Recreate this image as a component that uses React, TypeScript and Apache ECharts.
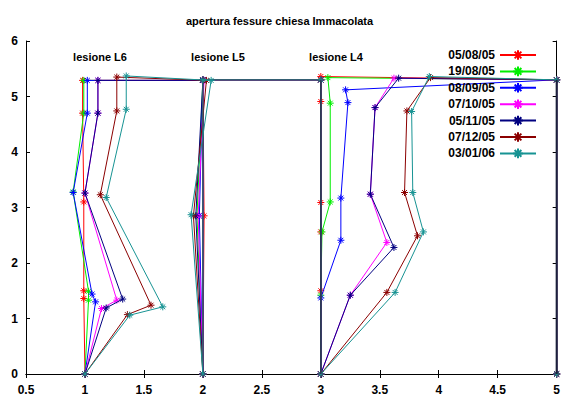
import React, { useEffect, useRef } from "react";
import * as echarts from "echarts";

const dates = ["05/08/05", "19/08/05", "08/09/05", "07/10/05", "05/11/05", "07/12/05", "03/01/06"];
const colors = ["#ff0000", "#00ee00", "#0000ff", "#ff00ff", "#000080", "#8b0000", "#179393"];

// lesione L6: points per date, bottom -> top
const l6Points = [
  [[1, 0], [0.99, 1.36], [0.99, 1.5], [0.99, 3.1], [0.98, 4.7], [0.98, 5.29]],
  [[1, 0], [1.03, 1.33], [1.03, 1.49], [0.9, 3.28], [0.99, 4.7], [0.99, 5.29]],
  [[1, 0], [1.09, 1.3], [1.06, 1.44], [0.9, 3.27], [1.02, 4.7], [1.02, 5.29]],
  [[1, 0], [1.14, 1.18], [1.27, 1.33], [1.0, 3.26], [1.11, 4.7], [1.11, 5.29]],
  [[1, 0], [1.18, 1.19], [1.32, 1.35], [1.0, 3.26], [1.11, 4.7], [1.11, 5.29]],
  [[1, 0], [1.36, 1.07], [1.56, 1.24], [1.13, 3.23], [1.27, 4.74], [1.27, 5.35]],
  [[1, 0], [1.38, 1.06], [1.66, 1.21], [1.18, 3.18], [1.35, 4.77], [1.35, 5.37]],
];

// lesione L5: points per date, top -> bottom
const l5Points = [
  [[2.0, 5.29], [2.01, 2.85], [2, 0]],
  [[2.0, 5.29], [1.95, 2.85], [2, 0]],
  [[2.0, 5.29], [1.97, 2.85], [2, 0]],
  [[2.01, 5.29], [1.96, 2.85], [2, 0]],
  [[2.0, 5.29], [1.94, 2.85], [2, 0]],
  [[2.03, 5.29], [1.92, 2.85], [2, 0]],
  [[2.07, 5.29], [1.9, 2.87], [2, 0]],
];

// connection between L5 and L4 (top of the wall)
const l5ToL4 = [[2, 5.3], [3, 5.3]];

// lesione L4: points per date, bottom -> top
const l4Points = [
  [[3, 0], [3.0, 1.5], [3.0, 2.56], [3.0, 3.09], [3.0, 4.91], [3.0, 5.36]],
  [[3, 0], [3.0, 1.42], [3.01, 2.56], [3.08, 3.1], [3.08, 4.88], [3.06, 5.34]],
  [[3, 0], [3.0, 1.37], [3.17, 2.41], [3.17, 3.17], [3.23, 4.89], [3.21, 5.12]],
  [[3, 0], [3.25, 1.42], [3.56, 2.37], [3.42, 3.24], [3.46, 4.8], [3.62, 5.33]],
  [[3, 0], [3.25, 1.42], [3.62, 2.28], [3.42, 3.24], [3.46, 4.8], [3.66, 5.33]],
  [[3, 0], [3.56, 1.47], [3.82, 2.49], [3.71, 3.27], [3.73, 4.74], [3.93, 5.34]],
  [[3, 0], [3.63, 1.47], [3.87, 2.56], [3.78, 3.27], [3.77, 4.73], [3.92, 5.36]],
];

// end of the wall
const endPoints = [[5, 5.3], [5, 0]];

// dark reference lines
const refL4 = [[3, 0], [3, 5.3]];
const refEnd = [[5, 0], [5, 5.3]];

const xTicks = { min: 0.5, max: 5, interval: 0.5 };
const yTicks = { min: 0, max: 6, interval: 1 };

const labels = [
  { text: "lesione L6", x: 100, y: 57 },
  { text: "lesione L5", x: 218, y: 57 },
  { text: "lesione L4", x: 336, y: 57 },
];

const asterisk = "path://M0,5L10,5M5,0L5,10M1.5,1.5L8.5,8.5M8.5,1.5L1.5,8.5";
const font = "'Liberation Sans', Arial, Helvetica, sans-serif";

export default function App() {
  const ref = useRef<HTMLDivElement>(null);
  useEffect(() => {
    if (!ref.current) return;
    const chart = echarts.init(ref.current, null, { renderer: "svg" });

    const series: any[] = dates.map((d, i) => ({
      name: d,
      type: "line",
      data: [...l6Points[i], ...l5Points[i], ...l5ToL4, ...l4Points[i], ...endPoints],
      color: colors[i],
      symbol: asterisk,
      symbolSize: 7,
      showAllSymbol: true,
      lineStyle: { width: 1, color: colors[i] },
      itemStyle: { color: colors[i], borderColor: colors[i], borderWidth: 1 },
      emphasis: { disabled: true },
      z: 2 + i * 0.01,
    }));
    series.push({
      name: "refL4",
      type: "line",
      data: refL4,
      symbol: "none",
      lineStyle: { width: 1.6, color: "#2e3a55" },
      z: 3,
    });
    series.push({
      name: "refEnd",
      type: "line",
      data: refEnd,
      symbol: "none",
      lineStyle: { width: 2, color: "#1c213c" },
      z: 3,
    });

    const axisCommon = {
      axisLine: { show: true, lineStyle: { color: "#000", width: 1 } },
      axisTick: { show: true, inside: true, length: 4, lineStyle: { color: "#000" } },
      splitLine: { show: false },
    };

    chart.setOption({
      animation: false,
      title: {
        text: "apertura fessure chiesa Immacolata",
        left: 181,
        top: 10,
        textStyle: { fontSize: 11, fontWeight: "bold", color: "#000", fontFamily: font },
      },
      legend: {
        data: dates,
        orient: "vertical",
        align: "right",
        right: 21,
        top: 44,
        itemWidth: 36,
        itemHeight: 12,
        itemGap: 4.4,
        selectedMode: false,
        textStyle: { fontSize: 12, fontWeight: "bold", color: "#000", fontFamily: font, lineHeight: 12 },
      },
      grid: { left: 26, right: 6, top: 41, bottom: 22, containLabel: false },
      xAxis: [
        {
          type: "value",
          ...xTicks,
          ...axisCommon,
          axisLabel: { fontSize: 12, fontWeight: "bold", color: "#000", fontFamily: font, margin: 10 },
        },
        {
          type: "value",
          position: "top",
          ...xTicks,
          ...axisCommon,
          axisLabel: { show: false },
        },
      ],
      yAxis: [
        {
          type: "value",
          ...yTicks,
          ...axisCommon,
          axisLabel: { fontSize: 12, fontWeight: "bold", color: "#000", fontFamily: font, margin: 8 },
        },
        {
          type: "value",
          position: "right",
          ...yTicks,
          ...axisCommon,
          axisLabel: { show: false },
        },
      ],
      graphic: labels.map((l) => ({
        type: "text",
        x: l.x,
        y: l.y,
        style: {
          text: l.text,
          fontSize: 11,
          fontWeight: "bold",
          fontFamily: font,
          fill: "#000",
          textAlign: "center",
          textVerticalAlign: "middle",
        },
      })),
      series,
    });
    return () => chart.dispose();
  }, []);
  return (
    <div
      ref={ref}
      style={{ position: "absolute", left: 0, top: 0, width: 563, height: 396, background: "#fff" }}
    />
  );
}
